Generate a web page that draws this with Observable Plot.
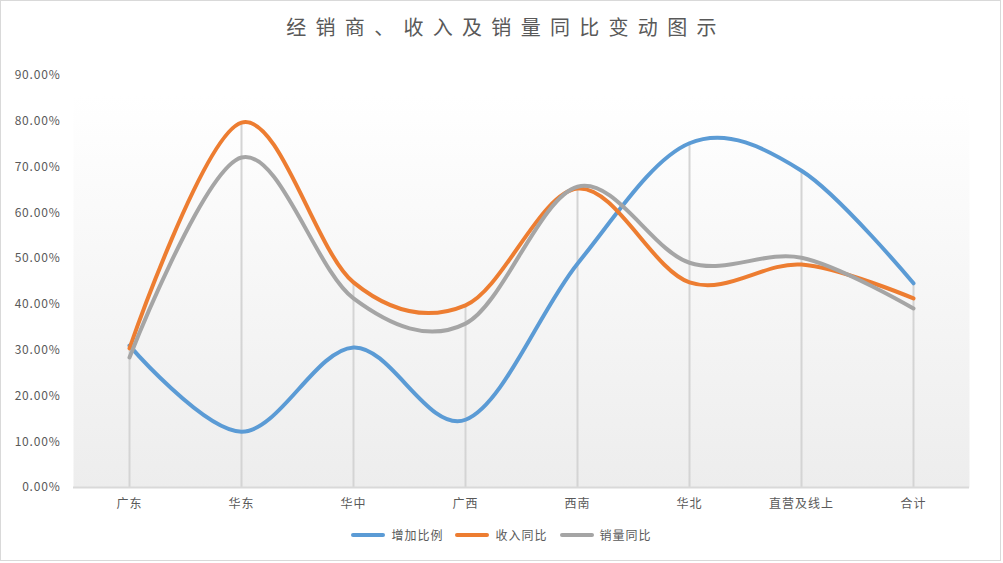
<!DOCTYPE html>
<html>
<head>
<meta charset="utf-8">
<script src="https://cdn.jsdelivr.net/npm/d3@7"></script>
<script src="https://cdn.jsdelivr.net/npm/@observablehq/plot@0.6"></script>
<style>
  html, body { margin: 0; padding: 0; background: #ffffff; }
  #wrap { position: relative; width: 1003px; height: 563px; overflow: hidden; font-family: "Noto Sans CJK SC", sans-serif; }
  #border { position: absolute; left: 0; top: 0; width: 1001px; height: 561px; box-sizing: border-box; border: 1.5px solid #d9d9d9; pointer-events: none; }
  #title { position: absolute; left: 0; top: 14px; width: 1003px; text-align: center; font-size: 20px; line-height: 26px; color: #595959; letter-spacing: 9.3px; padding-left: 9px; box-sizing: border-box; }
  #chart { position: absolute; left: 0; top: 55px; }
  #legend { position: absolute; left: 0; top: 526px; width: 1003px; display: flex; justify-content: center; align-items: center; font-size: 12px; letter-spacing: 1px; color: #595959; }
  .item { display: flex; align-items: center; margin: 0 6px; }
  .sw { width: 34px; height: 4px; border-radius: 2px; margin-right: 6px; }
</style>
</head>
<body>
<div id="wrap">
  <div id="title"></div>
  <div id="chart"></div>
  <div id="legend"></div>
  <div id="border"></div>
</div>
<script>
const titleText = "经销商、收入及销量同比变动图示";
const categories = ["广东", "华东", "华中", "广西", "西南", "华北", "直营及线上", "合计"];
const seriesNames = ["增加比例", "收入同比", "销量同比"];
const seriesColors = ["#5B9BD5", "#ED7D31", "#A5A5A5"];
// values in percent
const addRatio   = [31.0, 12.2, 30.6, 14.8, 48.9, 75.2, 69.2, 44.6];
const revenueYoY = [30.4, 79.7, 44.8, 39.8, 65.3, 44.8, 48.7, 41.3];
const volumeYoY  = [28.4, 72.1, 41.3, 35.8, 65.7, 49.1, 50.2, 39.1];
const yTicks = [0, 10, 20, 30, 40, 50, 60, 70, 80, 90];

const seriesValues = [addRatio, revenueYoY, volumeYoY];
const rows = [];
seriesValues.forEach((vals, s) => {
  vals.forEach((v, i) => rows.push({cat: categories[i], value: v, series: seriesNames[s]}));
});
const maxRows = categories.map((c, i) => ({cat: c, top: Math.max(...seriesValues.map(a => a[i]))}));

document.getElementById("title").textContent = titleText;

const chart = Plot.plot({
  width: 1003,
  height: 465,
  marginLeft: 73,
  marginRight: 34,
  marginTop: 20,
  marginBottom: 33,
  style: {fontFamily: "'Noto Sans CJK SC', sans-serif", fontSize: "12px", color: "#595959", background: "transparent"},
  x: {type: "point", domain: categories, padding: 0.5, label: null},
  y: {domain: [0, 90], label: null},
  color: {domain: seriesNames, range: seriesColors},
  marks: [
    Plot.frame({fill: "url(#bgGrad)", stroke: "none", insetTop: 20}),
    Plot.ruleX(maxRows, {x: "cat", y1: 0, y2: "top", stroke: "#d4d4d4", strokeWidth: 2}),
    Plot.ruleY([0], {stroke: "#d9d9d9", strokeWidth: 2}),
    Plot.axisY({ticks: yTicks, tickSize: 0, tickPadding: 13, tickFormat: d => d.toFixed(2) + "%", fill: "#595959", label: null}),
    Plot.axisX({tickSize: 0, tickPadding: 12, fill: "#595959", label: null}),
    Plot.line(rows, {x: "cat", y: "value", z: "series", stroke: "series", strokeWidth: 4, curve: "cardinal", strokeLinecap: "round", strokeLinejoin: "round"})
  ]
});

const svg = d3.select(chart);
const defs = svg.insert("defs", ":first-child");
const grad = defs.append("linearGradient").attr("id", "bgGrad").attr("x1", 0).attr("y1", 0).attr("x2", 0).attr("y2", 1);
grad.append("stop").attr("offset", "0%").attr("stop-color", "#ffffff");
grad.append("stop").attr("offset", "100%").attr("stop-color", "#ededed");
svg.selectAll("[aria-label='y-axis tick label']").style("letter-spacing", "0.8px");
svg.selectAll("[aria-label='x-axis tick label']").style("letter-spacing", "1px");

document.getElementById("chart").appendChild(chart);

const legend = document.getElementById("legend");
seriesNames.forEach((name, i) => {
  const item = document.createElement("div");
  item.className = "item";
  const sw = document.createElement("div");
  sw.className = "sw";
  sw.style.background = seriesColors[i];
  const t = document.createElement("span");
  t.textContent = name;
  item.appendChild(sw);
  item.appendChild(t);
  legend.appendChild(item);
});
</script>
</body>
</html>
